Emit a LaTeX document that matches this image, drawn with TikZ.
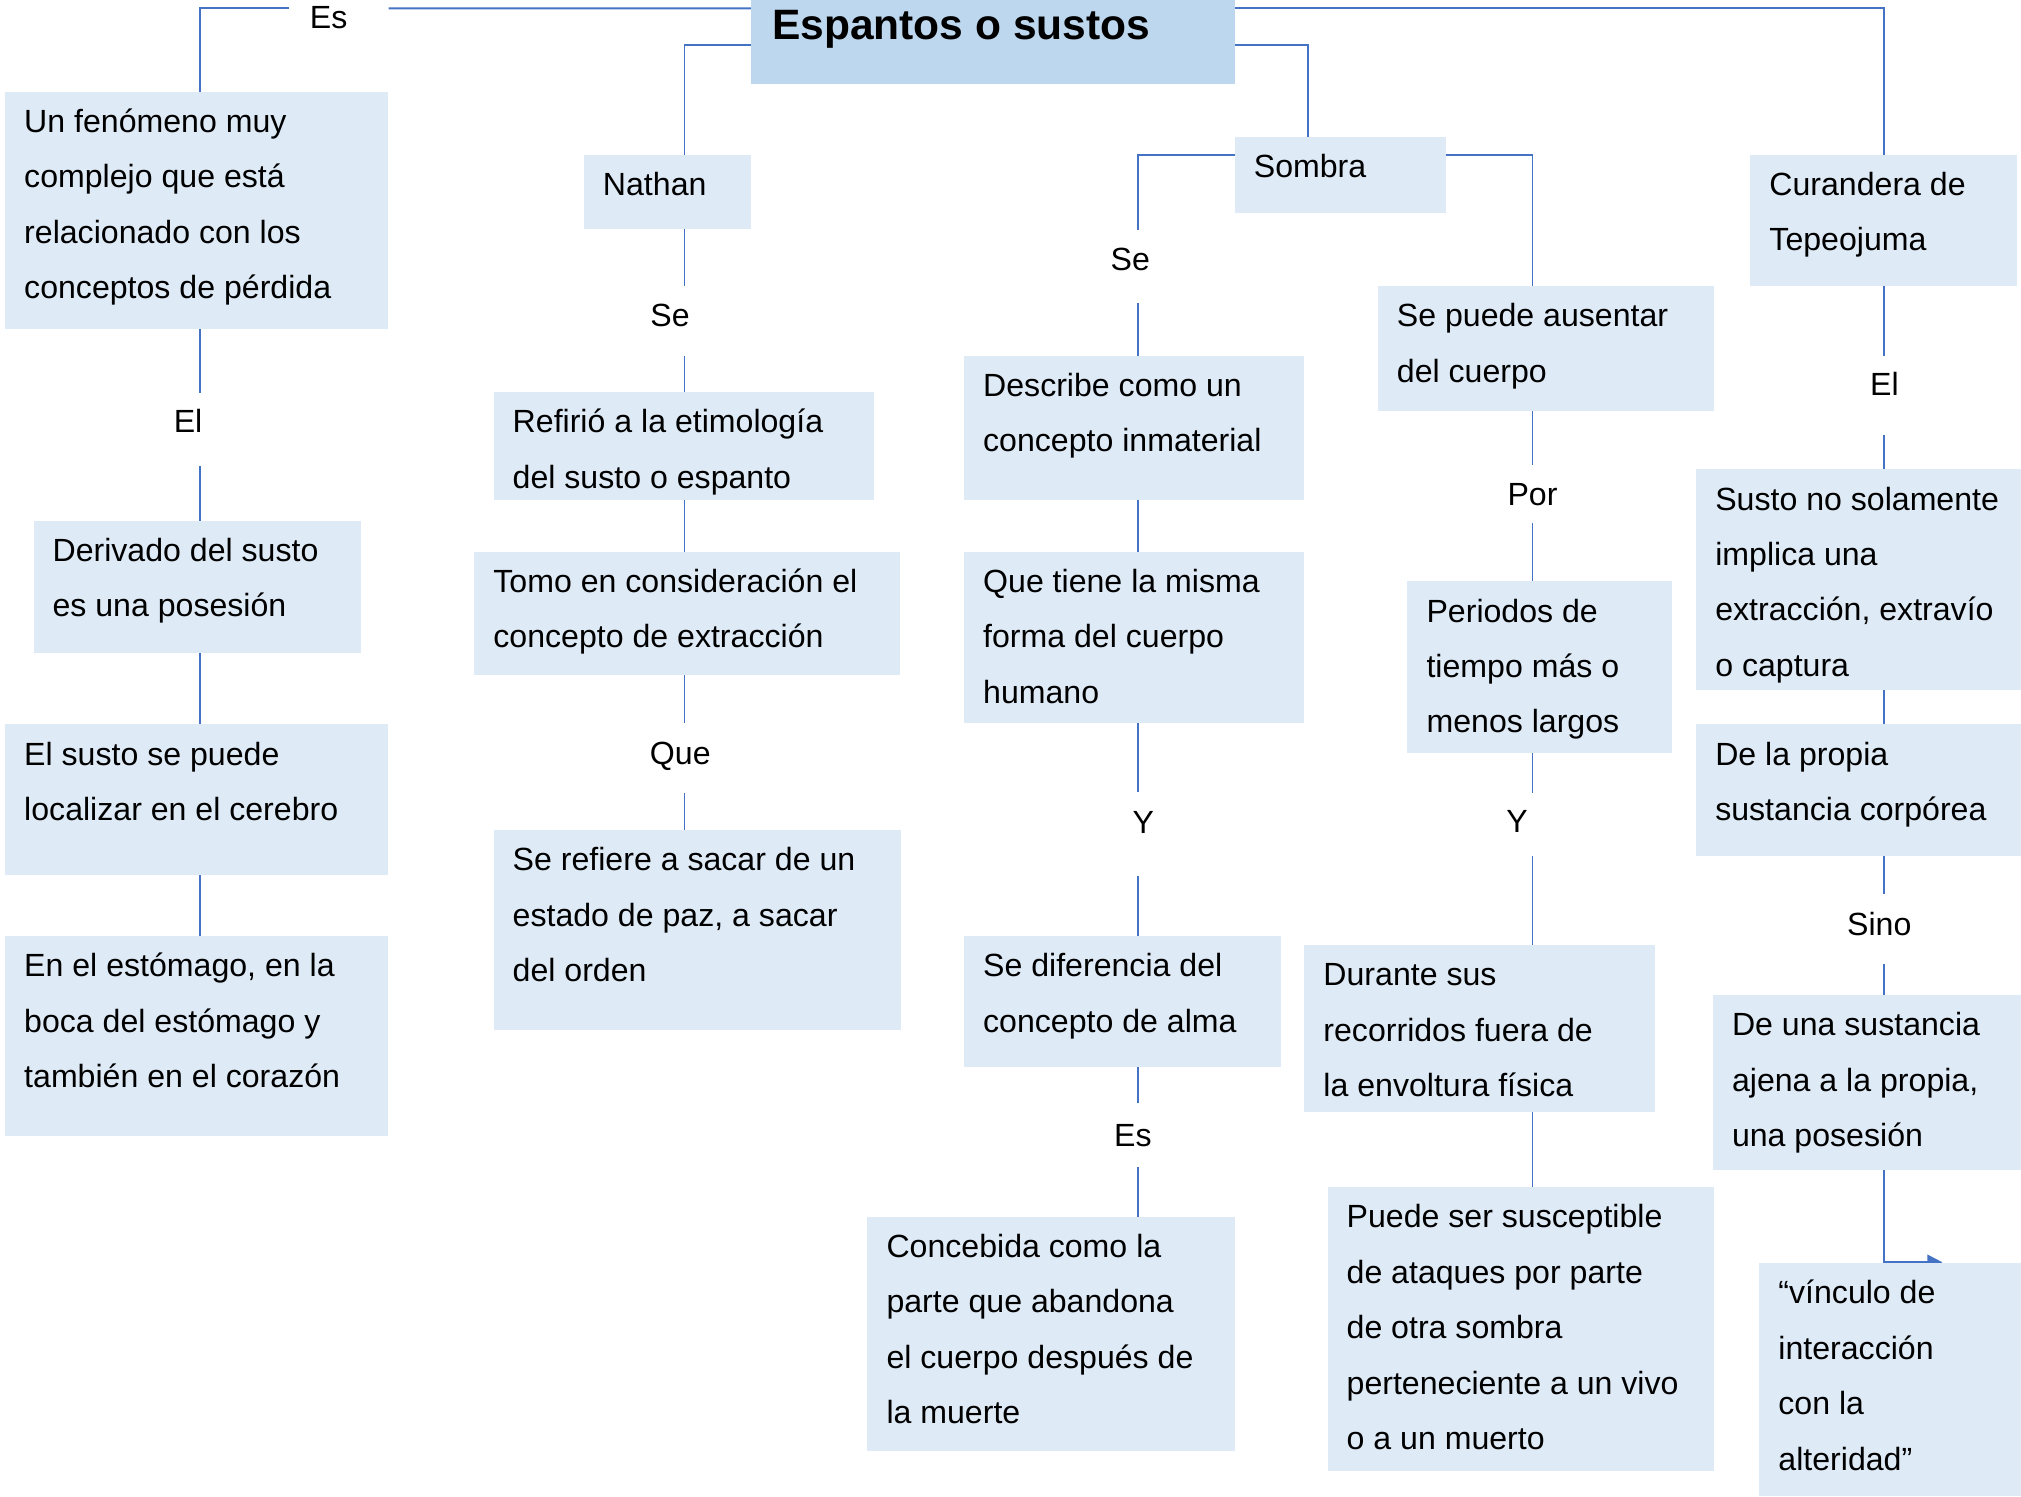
\documentclass[tikz,border=0pt]{standalone}
\usepackage{fontspec}
\setmainfont{Liberation Sans}
\usetikzlibrary{fit,calc,backgrounds,arrows.meta}
\definecolor{boxfill}{HTML}{DEEAF6}
\definecolor{titlefill}{HTML}{BDD7EE}
\definecolor{linecol}{HTML}{4472C4}
\newcommand\mybox[6]{%
  \node[box, fit={(#2,#3) (#4,#5)}] (#1) {};
  \node[txt, anchor=north west] (#1t) at ($(#1.north west)+(14.8,1.6)$) {\strut #6};
}
\begin{document}
\begin{tikzpicture}[x=1.2889pt,y=-1.2889pt,
  box/.style={fill=boxfill, inner sep=0pt, outer sep=0pt},
  titlebox/.style={fill=titlefill, inner sep=0pt, outer sep=0pt},
  txt/.style={inner sep=0pt, outer sep=0pt, align=left, font=\fontsize{32.1}{55.4}\selectfont},
  lbl/.style={inner sep=0pt, outer sep=0pt, font=\fontsize{32.1}{55.4}\selectfont, text height=23pt, text depth=#1},
  lbl/.default=0pt,
  conn/.style={draw=linecol, line width=1.8pt},
]
\useasboundingbox (0,0) rectangle (1568,1161);

% column x positions
\coordinate (c1) at (155,0);
\coordinate (c2) at (531,0);
\coordinate (c3) at (883,0);
\coordinate (cS) at (1015,0);
\coordinate (c4) at (1189,0);
\coordinate (c5) at (1462,0);

% title
\node[titlebox, fit={(583,0) (958,65)}] (title) {};
\node[inner sep=0pt, anchor=base west, font=\bfseries\fontsize{42.5}{48}\selectfont] (titlet) at (599,30.3) {Espantos o sustos};

% column 1
\mybox{b1}{4}{71}{301}{255}{Un fenómeno muy\\complejo que está\\relacionado con los\\conceptos de pérdida}
\mybox{b2}{26}{404}{280}{507}{Derivado del susto\\es una posesión}
\mybox{b3}{4}{562}{301}{679}{El susto se puede\\localizar en el cerebro}
\mybox{b4}{4}{726}{301}{881}{En el estómago, en la\\boca del estómago y\\también en el corazón}

% column 2
\mybox{nathan}{453}{120}{583}{178}{Nathan}
\mybox{refirio}{383}{304}{678}{388}{Refirió a la etimología\\del susto o espanto}
\mybox{tomo}{368}{428}{698}{524}{Tomo en consideración el\\concepto de extracción}
\mybox{serefiere}{383}{644}{699}{799}{Se refiere a sacar de un\\estado de paz, a sacar\\del orden}

% column 3
\mybox{sombra}{958}{106}{1122}{165}{Sombra}
\mybox{desc}{748}{276}{1012}{388}{Describe como un\\concepto inmaterial}
\mybox{quetiene}{748}{428}{1012}{561}{Que tiene la misma\\forma del cuerpo\\humano}
\mybox{sedif}{748}{726}{994}{828}{Se diferencia del\\concepto de alma}
\mybox{conceb}{673}{944}{958}{1126}{Concebida como la\\parte que abandona\\el cuerpo después de\\la muerte}

% column 4
\mybox{aus}{1069}{222}{1330}{319}{Se puede ausentar\\del cuerpo}
\mybox{periodos}{1092}{451}{1297}{584}{Periodos de\\tiempo más o\\menos largos}
\mybox{durante}{1012}{733}{1284}{863}{Durante sus\\recorridos fuera de\\la envoltura física}
\mybox{puede}{1030}{921}{1330}{1141}{Puede ser susceptible\\de ataques por parte\\de otra sombra\\perteneciente a un vivo\\o a un muerto}

% column 5
\mybox{cur}{1358}{120}{1565}{222}{Curandera de\\Tepeojuma}
\mybox{susto}{1316}{364}{1568}{535}{Susto no solamente\\implica una\\extracción, extravío\\o captura}
\mybox{propia}{1316}{562}{1568}{664}{De la propia\\sustancia corpórea}
\mybox{ajena}{1329}{772}{1568}{908}{De una sustancia\\ajena a la propia,\\una posesión}
\mybox{vinc}{1365}{980}{1568}{1161}{“vínculo de\\interacción\\con la\\alteridad”}

% labels
\node[inner sep=0pt, outer sep=0pt, font=\fontsize{32.1}{55.4}\selectfont, text height=40.6pt, text depth=0pt] (lEs) at (263,6.5) {\makebox[99.2pt][l]{\hspace*{20.5pt}Es}};
\node[lbl=16.6pt, minimum height=73pt] (lEl1) at (145.9,333) {El};
\node[lbl=10.4pt, minimum height=70pt] (lSe1) at (519.8,248.8) {Se};
\node[lbl=10.4pt, minimum height=70.6pt] (lQue) at (527.8,588) {Que};
\node[lbl=14.8pt, minimum height=73pt] (lSe2) at (877,206.9) {Se};
\node[lbl=24pt, minimum height=83.5pt] (lY1) at (887,647) {Y};
\node[lbl=0pt, minimum height=64pt] (lEs2) at (879,880.6) {Es};
\node[lbl=0pt, minimum height=58pt] (lPor) at (1189,383) {Por};
\node[lbl=6pt, minimum height=63pt] (lY2) at (1177,639.5) {Y};
\node[lbl=22pt, minimum height=79pt] (lEl2) at (1462,306.5) {El};
\node[lbl=10pt, minimum height=70pt] (lSino) at (1458,721) {Sino};

\coordinate (arrowend) at (1507,979.3);

\begin{scope}[on background layer]
  \fill[white] (0,0) rectangle (1568,1161);
  % from title
  \draw[conn] ($(title.north west)+(0,6.5)$) -- (lEs.east);
  \draw[conn] (lEs.west) -| (b1.north -| c1);
  \draw[conn] ($(title.north east)+(0,6.5)$) -| (cur.north -| c5);
  \draw[conn] ($(title.north west)+(0,35)$) -| (nathan.north -| c2);
  \draw[conn] ($(title.north east)+(0,35)$) -| (sombra.north -| cS);
  % column 1
  \draw[conn] (b1.south -| c1) -- (lEl1.north -| c1);
  \draw[conn] (lEl1.south -| c1) -- (b2.north -| c1);
  \draw[conn] (b2.south -| c1) -- (b3.north -| c1);
  \draw[conn] (b3.south -| c1) -- (b4.north -| c1);
  % column 2
  \draw[conn] (nathan.south -| c2) -- (lSe1.north -| c2);
  \draw[conn] (lSe1.south -| c2) -- (refirio.north -| c2);
  \draw[conn] (refirio.south -| c2) -- (tomo.north -| c2);
  \draw[conn] (tomo.south -| c2) -- (lQue.north -| c2);
  \draw[conn] (lQue.south -| c2) -- (serefiere.north -| c2);
  % column 3
  \draw[conn] ($(sombra.north west)+(0,14)$) -| (lSe2.north -| c3);
  \draw[conn] (lSe2.south -| c3) -- (desc.north -| c3);
  \draw[conn] (desc.south -| c3) -- (quetiene.north -| c3);
  \draw[conn] (quetiene.south -| c3) -- (lY1.north -| c3);
  \draw[conn] (lY1.south -| c3) -- (sedif.north -| c3);
  \draw[conn] (sedif.south -| c3) -- (lEs2.north -| c3);
  \draw[conn] (lEs2.south -| c3) -- (conceb.north -| c3);
  % column 4
  \draw[conn] ($(sombra.north east)+(0,14)$) -| (aus.north -| c4);
  \draw[conn] (aus.south -| c4) -- (lPor.north -| c4);
  \draw[conn] (lPor.south -| c4) -- (periodos.north -| c4);
  \draw[conn] (periodos.south -| c4) -- (lY2.north -| c4);
  \draw[conn] (lY2.south -| c4) -- (durante.north -| c4);
  \draw[conn] (durante.south -| c4) -- (puede.north -| c4);
  % column 5
  \draw[conn] (cur.south -| c5) -- (lEl2.north -| c5);
  \draw[conn] (lEl2.south -| c5) -- (susto.north -| c5);
  \draw[conn] (susto.south -| c5) -- (propia.north -| c5);
  \draw[conn] (propia.south -| c5) -- (lSino.north -| c5);
  \draw[conn] (lSino.south -| c5) -- (ajena.north -| c5);
  \draw[conn, -{Triangle[length=15pt, width=15pt]}] (ajena.south -| c5) |- (arrowend);
\end{scope}
\end{tikzpicture}
\end{document}
